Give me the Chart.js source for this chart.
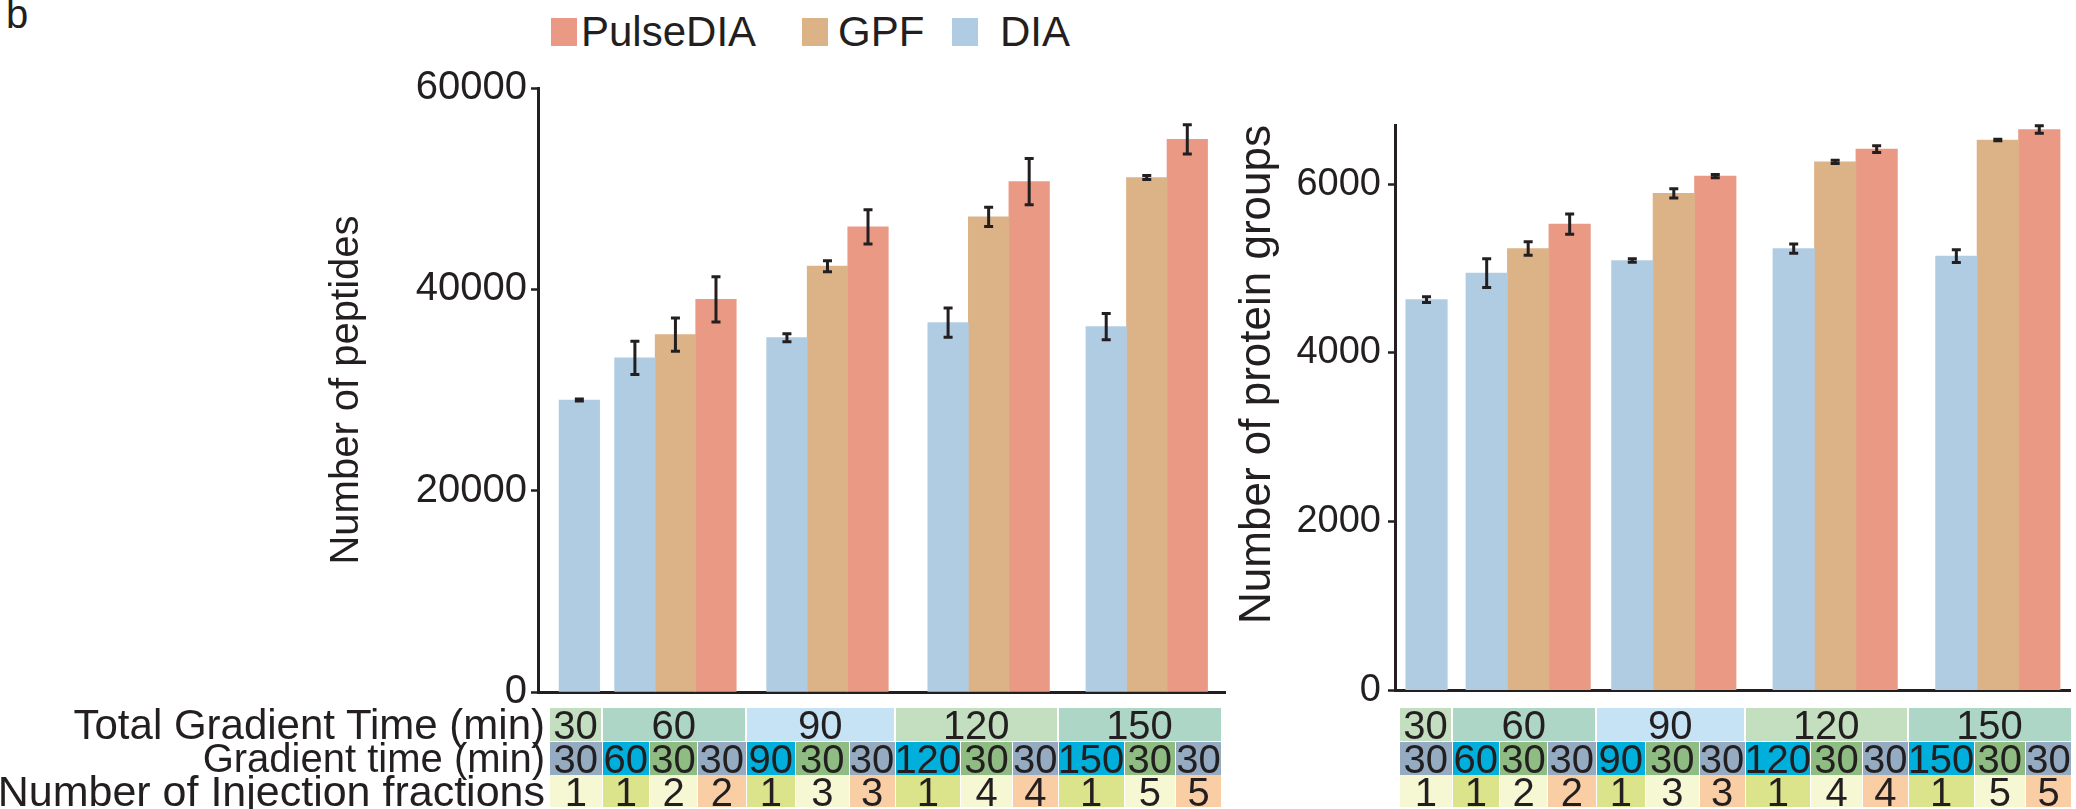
<!DOCTYPE html>
<html><head><meta charset="utf-8">
<script src="https://cdn.jsdelivr.net/npm/chart.js@4.4.1/dist/chart.umd.min.js"></script>
<style>
html,body{margin:0;padding:0;background:#fff;}
body{width:2076px;height:809px;position:relative;overflow:hidden;font-family:"Liberation Sans",Arial,Helvetica,sans-serif;color:#231f20;}
.abs{position:absolute;}
.cell{position:absolute;text-align:center;white-space:nowrap;overflow:visible;}
.lab{position:absolute;text-align:right;white-space:nowrap;}
canvas{display:block;}
</style></head><body>
<div class="abs" style="left:6px;top:-6px;font-size:40px;line-height:40px;">b</div>
<div id="legend"></div>
<div class="abs" style="left:300px;top:40px;"><canvas id="c1" width="940" height="680"></canvas></div>
<div class="abs" style="left:1230px;top:80px;"><canvas id="c2" width="846" height="640"></canvas></div>
<div id="tables"></div>
<script>
// ---------------- DATA ----------------
const categories = ["30", "60", "90", "120", "150"];          // Total gradient time (min)
const seriesNames = ["DIA", "GPF", "PulseDIA"];

const peptidesDIA      = [29000, 33200, 35200, 36700, 36300];
const peptidesDIAErr   = [100, 1650, 400, 1450, 1300];
const peptidesGPF      = [null, 35500, 42300, 47200, 51100];
const peptidesGPFErr   = [null, 1650, 550, 950, 200];
const peptidesPulse    = [null, 39000, 46200, 50700, 54900];
const peptidesPulseErr = [null, 2250, 1700, 2300, 1450];

const proteinsDIA      = [4630, 4945, 5094, 5235, 5145];
const proteinsDIAErr   = [35, 170, 20, 55, 75];
const proteinsGPF      = [null, 5235, 5890, 6263, 6522];
const proteinsGPFErr   = [null, 80, 55, 20, 10];
const proteinsPulse    = [null, 5525, 6094, 6415, 6647];
const proteinsPulseErr = [null, 120, 20, 40, 45];

const peptideTicks = [0, 20000, 40000, 60000];
const proteinTicks = [0, 2000, 4000, 6000];

const gradientTimeRow = ["30", "60", "30", "30", "90", "30", "30", "120", "30", "30", "150", "30", "30"];
const injectionRow    = ["1", "1", "2", "2", "1", "3", "3", "1", "4", "4", "1", "5", "5"];
const rowLabels = ["Total Gradient Time (min)", "Gradient time (min)", "Number of Injection fractions"];

// ---------------- STYLE ----------------
const TEXT = '#231f20';
const FONT = '"Liberation Sans", Arial, Helvetica, sans-serif';
const colors = { DIA: '#b0cce2', GPF: '#dcb287', PulseDIA: '#ea9985' };
const row1Colors = ['#c4dfc0', '#add6c6', '#c5e3f4', '#c4dfc0', '#add6c6'];
const row2Colors = { grey: '#94abc1', cyan: '#00afdb', green: '#8fbc82' };
const row3Colors = { pale: '#f6f8d3', yg: '#dbe48a', peach: '#f9cea4' };
const cellWidths = [52.5, 47.5, 48, 48.5, 49.5, 53.5, 46, 65.5, 52, 45.5, 66, 51.5, 46];

// ---------------- ERROR BARS PLUGIN ----------------
const errorBars = {
  id: 'errorBars',
  afterDatasetsDraw(chart) {
    const ctx = chart.ctx, ys = chart.scales.y;
    chart.data.datasets.forEach((ds, di) => {
      const meta = chart.getDatasetMeta(di);
      meta.data.forEach((bar, i) => {
        const p = ds.data[i];
        if (!p || p.err == null) return;
        const x = bar.x;
        const yt = ys.getPixelForValue(p.y + p.err);
        const yb = ys.getPixelForValue(p.y - p.err);
        ctx.save();
        ctx.strokeStyle = TEXT; ctx.lineWidth = 3; ctx.lineCap = 'butt';
        ctx.beginPath();
        ctx.moveTo(x, yt - 1.5); ctx.lineTo(x, yb + 1.5);
        ctx.moveTo(x - 4.5, yt); ctx.lineTo(x + 4.5, yt);
        ctx.moveTo(x - 4.5, yb); ctx.lineTo(x + 4.5, yb);
        ctx.stroke();
        ctx.restore();
      });
    });
  }
};

function buildChart(id, series, errs, ticksArr, yMax, opt) {
  // dodge layout: bars of a group side by side (1 unit wide), gaps between groups
  let cursor = opt.lead;
  const pts = { DIA: [], GPF: [], PulseDIA: [] };
  categories.forEach((c, g) => {
    seriesNames.forEach(s => {
      const v = series[s][g];
      if (v == null) return;
      pts[s].push({ x: cursor + 0.5, y: v, err: errs[s][g] });
      cursor += 1;
    });
    if (g < categories.length - 1) cursor += opt.gaps[g];
  });
  const xMax = cursor + opt.trail;
  const datasets = seriesNames.map(s => ({
    label: s, data: pts[s], backgroundColor: colors[s], borderWidth: 0,
    grouped: false, barPercentage: 1, categoryPercentage: 1
  }));
  return new Chart(document.getElementById(id), {
    type: 'bar',
    data: { datasets },
    options: {
      responsive: false, animation: false,
      layout: { padding: opt.padding },
      plugins: { legend: { display: false }, tooltip: { enabled: false } },
      scales: {
        x: {
          type: 'linear', min: 0, max: xMax,
          afterBuildTicks: s => { s.ticks = []; },
          afterFit: s => { s.height = 0; },
          ticks: { display: false },
          grid: { display: false },
          border: { display: true, color: TEXT, width: 3 }
        },
        y: {
          min: 0, max: yMax,
          afterBuildTicks: s => { s.ticks = ticksArr.map(v => ({ value: v })); },
          afterFit: s => { s.width = opt.axisW; },
          ticks: { color: TEXT, font: { family: FONT, size: opt.tickSize }, padding: opt.tickPad,
                   callback: v => String(v) },
          grid: { display: true, drawOnChartArea: false, drawTicks: true, tickLength: 7,
                  tickWidth: 2.5, tickColor: TEXT },
          border: { display: true, color: TEXT, width: 3 },
          title: { display: true, text: opt.title, color: TEXT, align: opt.titleAlign,
                   font: { family: FONT, size: opt.titleSize, lineHeight: 1 }, padding: 0 }
        }
      }
    },
    plugins: [errorBars]
  });
}

buildChart('c1',
  { DIA: peptidesDIA, GPF: peptidesGPF, PulseDIA: peptidesPulse },
  { DIA: peptidesDIAErr, GPF: peptidesGPFErr, PulseDIA: peptidesPulseErr },
  peptideTicks, 60000,
  { lead: 0.52, gaps: [0.37, 0.75, 0.975, 0.9], trail: 0.43,
    padding: { left: 27, top: 48, right: 15, bottom: 27 }, axisW: 211,
    tickSize: 40, tickPad: 4, title: 'Number of peptides', titleSize: 40, titleAlign: 'center' });

buildChart('c2',
  { DIA: proteinsDIA, GPF: proteinsGPF, PulseDIA: proteinsPulse },
  { DIA: proteinsDIAErr, GPF: proteinsGPFErr, PulseDIA: proteinsPulseErr },
  proteinTicks, 6700,
  { lead: 0.26, gaps: [0.45, 0.51, 0.89, 0.92], trail: 0.24,
    padding: { left: 6, top: 45, right: 6, bottom: 24 }, axisW: 159,
    tickSize: 38, tickPad: 7, title: 'Number of protein groups', titleSize: 44, titleAlign: 'end' });

// ---------------- LEGEND (HTML) ----------------
(function () {
  const L = document.getElementById('legend');
  const order = ["PulseDIA", "GPF", "DIA"];
  const sq = [551, 802, 952], tx = [581, 838, 1000];
  order.forEach((s, i) => {
    const b = document.createElement('div');
    b.className = 'abs';
    b.style.cssText = `left:${sq[i]}px;top:18px;width:26px;height:28px;background:${colors[s]};`;
    L.appendChild(b);
    const t = document.createElement('div');
    t.className = 'abs';
    t.style.cssText = `left:${tx[i]}px;top:11px;font-size:42px;line-height:42px;white-space:nowrap;`;
    t.textContent = s;
    L.appendChild(t);
  });
})();

// ---------------- TABLES (HTML) ----------------
(function () {
  const T = document.getElementById('tables');
  // method of every bar / table column, derived from the series data
  const colMethod = [], colGroup = [];
  categories.forEach((c, g) => {
    [peptidesDIA, peptidesGPF, peptidesPulse].forEach((arr, k) => {
      if (arr[g] != null) { colMethod.push(seriesNames[k]); colGroup.push(g); }
    });
  });
  const rows = [{ top: 708, h: 33, c: 724.5 }, { top: 742, h: 33, c: 758 }, { top: 775, h: 32, c: 791.5 }];
  function cell(x, y, w, h, bg, txt, center) {
    const d = document.createElement('div');
    d.className = 'cell';
    d.style.cssText = `left:${x}px;top:${y}px;width:${w}px;height:${h}px;background:${bg};`;
    T.appendChild(d);
    const t = document.createElement('div');
    t.className = 'cell';
    t.style.cssText = `left:${x - 20}px;top:${center - 19.5}px;width:${w + 40}px;font-size:40px;line-height:40px;`;
    t.textContent = txt;
    T.appendChild(t);
  }
  function table(x0, withLabels) {
    const xs = [x0];
    cellWidths.forEach(w => xs.push(xs[xs.length - 1] + w));
    // row 1: total gradient time, merged per group
    categories.forEach((c, g) => {
      const idx = colGroup.map((gg, i) => gg === g ? i : -1).filter(i => i >= 0);
      const a = xs[idx[0]], b = xs[idx[idx.length - 1] + 1];
      cell(a, rows[0].top, b - a - 1.5, rows[0].h, row1Colors[g], c, rows[0].c);
    });
    // rows 2 & 3
    colMethod.forEach((m, i) => {
      const g = colGroup[i];
      let c2, c3;
      if (m === 'DIA') { c2 = gradientTimeRow[i] === '30' ? row2Colors.grey : row2Colors.cyan; c3 = g === 0 ? row3Colors.pale : row3Colors.yg; }
      else if (m === 'GPF') { c2 = row2Colors.green; c3 = row3Colors.pale; }
      else { c2 = row2Colors.grey; c3 = row3Colors.peach; }
      cell(xs[i], rows[1].top, cellWidths[i] - 1, rows[1].h, c2, gradientTimeRow[i], rows[1].c);
      cell(xs[i], rows[2].top, cellWidths[i] - 1, rows[2].h, c3, injectionRow[i], rows[2].c);
    });
    if (withLabels) {
      const sizes = [42, 40, 43];
      rowLabels.forEach((txt, r) => {
        const d = document.createElement('div');
        d.className = 'lab';
        const f = sizes[r];
        d.style.cssText = `left:-300px;width:845px;top:${rows[r].c - 0.4885 * f}px;font-size:${f}px;line-height:${f}px;`;
        d.textContent = txt;
        T.appendChild(d);
      });
    }
  }
  table(550, true);
  table(1400, false);
})();
</script>
</body></html>
